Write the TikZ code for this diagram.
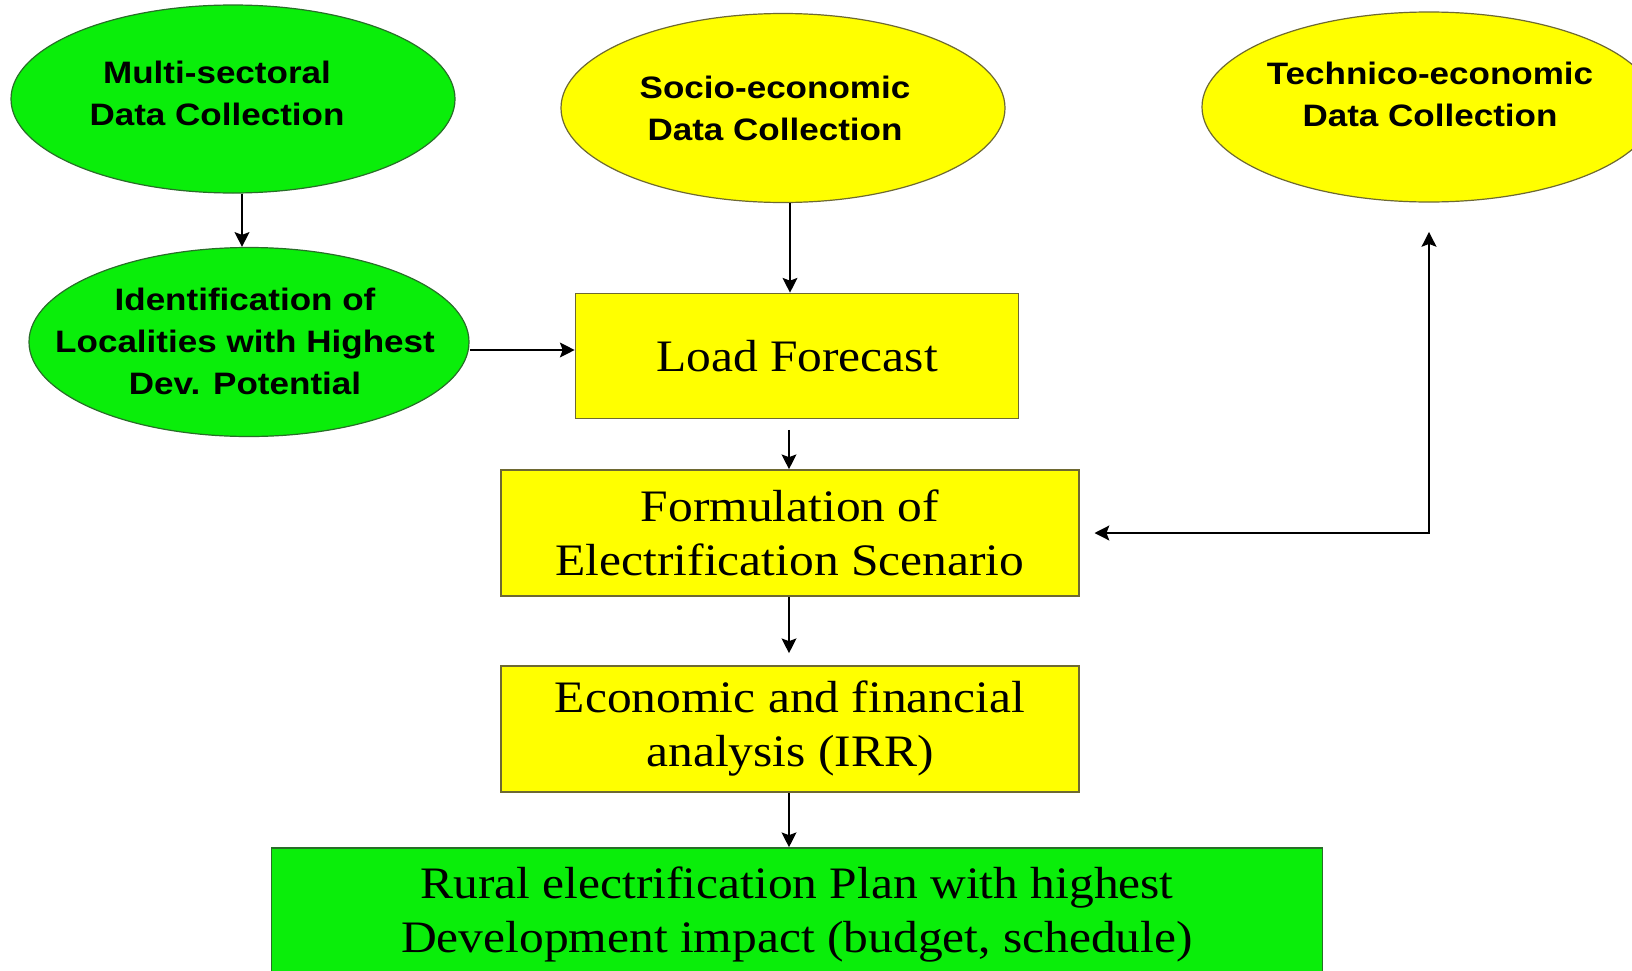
\documentclass[tikz,border=0pt]{standalone}
\usepackage{fontspec}
\usetikzlibrary{shapes.geometric,arrows.meta}
\newfontfamily\ellfont[FakeStretch=1.13]{Liberation Sans}
\newfontfamily\boxfont[FakeStretch=1.1]{Liberation Serif}
\definecolor{grn}{RGB}{10,238,10}
\definecolor{ylw}{RGB}{255,255,0}
\definecolor{edgeY}{RGB}{110,105,50}
\definecolor{edgeG}{RGB}{40,110,40}
\begin{document}
\begin{tikzpicture}[x=0.75pt,y=-0.75pt,
  ell/.style={ellipse, line width=0.9pt, inner sep=0pt},
  etxt/.style={align=center, inner sep=0pt, font=\ellfont\bfseries\fontsize{23.25pt}{31.5pt}\selectfont},
  rbox/.style={rectangle, draw=edgeY, fill=ylw, line width=1.2pt, align=center, inner sep=0pt,
    font=\boxfont\fontsize{33.75pt}{40.5pt}\selectfont},
  arr/.style={line width=2pt, -{Stealth[length=11pt,width=11pt,inset=2pt]}},
  arrb/.style={line width=2pt, {Stealth[length=11pt,width=11pt,inset=2pt]}-{Stealth[length=11pt,width=11pt,inset=2pt]}}
]
\useasboundingbox (0,0) rectangle (1632,971);
\clip (0,0) rectangle (1632,971);
\fill[white] (0,0) rectangle (1632,971);

% ellipses
\node[ell, draw=edgeG, fill=grn, minimum width=333pt, minimum height=141pt] (multi) at (233,99) {};
\node[etxt] (multit) at (217,93) {Multi-sectoral\\Data Collection};
\node[ell, draw=edgeG, fill=grn, minimum width=330pt, minimum height=141.75pt] (ident) at (249,342) {};
\node[etxt] (identt) at (245,341) {Identification of\\Localities with Highest\\Dev. Potential};
\node[ell, draw=edgeY, fill=ylw, minimum width=333pt, minimum height=141.75pt] (socio) at (783,108) {};
\node[etxt] (sociot) at (775,108) {Socio-economic\\Data Collection};
\node[ell, draw=edgeY, fill=ylw, minimum width=340.5pt, minimum height=142.5pt] (tech) at (1429,107) {};
\node[etxt] (techt) at (1430,94) {Technico-economic\\Data Collection};

% boxes
\node[rbox, minimum width=332.25pt, minimum height=93.75pt] (load) at (797,356) {Load Forecast};
\node[rbox, minimum width=433.5pt, minimum height=94.5pt] (form) at (790,533) {Formulation of\\Electrification Scenario};
\node[rbox, minimum width=433.5pt, minimum height=94.5pt] (econ) at (790,729) {Economic and financial\\analysis (IRR)};
\node[rbox, draw=edgeG, fill=grn, minimum width=788.25pt, minimum height=100.5pt] (rural) at (797,915) {Rural electrification Plan with highest\\Development impact (budget, schedule)};

% connectors
\coordinate (a1) at (242,0);
\coordinate (a2) at (790,0);
\coordinate (a3) at (0,350);
\coordinate (a4) at (789,0);
\draw[arr] (multi.south -| a1) -- (ident.north -| a1);
\draw[arr] (socio.south -| a2) -- (load.north -| a2);
\draw[arr] (ident.east |- a3) -- (load.west |- a3);
\draw[arr, shorten <=8pt] (load.south -| a4) -- (form.north -| a4);
\draw[arr, shorten >=9pt] (form.south -| a4) -- (econ.north -| a4);
\draw[arr] (econ.south -| a4) -- (rural.north -| a4);
\draw[arrb, shorten <=22pt, shorten >=11pt] (tech.south) |- (form.east);
\end{tikzpicture}
\end{document}
